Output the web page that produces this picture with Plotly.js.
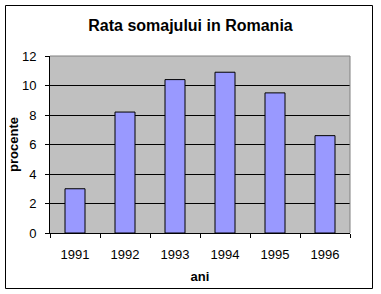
<!DOCTYPE html>
<html><head><meta charset="utf-8">
<script src="https://cdn.plot.ly/plotly-3.0.1.min.js"></script>
<style>html,body{margin:0;padding:0;background:#fff;}#c{width:381px;height:294px;}</style>
</head><body><div id="c"></div>
<script>
const years = ['1991','1992','1993','1994','1995','1996'];
const rates = [3.0, 8.2, 10.4, 10.9, 9.5, 6.6];
const yTicks = [0,2,4,6,8,10,12];
const chartTitle = 'Rata somajului in Romania';
const xTitle = 'ani';
const yTitle = 'procente';

const F = 'Liberation Sans, Arial, sans-serif';
const trace = {
  type: 'bar', x: years, y: rates,
  marker: {color: '#9999ff', line: {color: '#000', width: 1}},
  hoverinfo: 'none'
};
const layout = {
  width: 381, height: 294,
  margin: {l: 50, r: 31, t: 56, b: 61},
  paper_bgcolor: '#fff', plot_bgcolor: '#c0c0c0',
  bargap: 0.6, showlegend: false,
  font: {family: F, color: '#000', size: 13},
  title: {text: '<b>' + chartTitle + '</b>', font: {family: F, size: 16, color: '#000'},
          x: 0.5, xref: 'container', y: 1 - 25/294, yref: 'container', yanchor: 'middle'},
  xaxis: {
    type: 'category', showline: true, linecolor: '#000', linewidth: 1,
    ticks: 'outside', ticklen: 4, tickcolor: '#000', tickson: 'boundaries',
    showgrid: false, zeroline: false, tickfont: {family: F, size: 13}, ticklabelstandoff: 9,
    title: {text: '<b>' + xTitle + '</b>', font: {family: F, size: 13}, standoff: 11}
  },
  yaxis: {
    range: [0, 12], tickvals: yTicks, showline: true, linecolor: '#000', linewidth: 1,
    ticks: 'outside', ticklen: 4, tickcolor: '#000',
    showgrid: true, gridcolor: '#000', gridwidth: 1, zeroline: false,
    tickfont: {family: F, size: 13}, ticklabelstandoff: 6,
    title: {text: '<b>' + yTitle + '</b>', font: {family: F, size: 13}, standoff: 0}
  },
  shapes: [
    {type: 'line', xref: 'paper', yref: 'paper', x0: 0, x1: 1, y0: 1, y1: 1, line: {color: '#808080', width: 1}},
    {type: 'line', xref: 'paper', yref: 'paper', x0: 1, x1: 1, y0: 0, y1: 1, line: {color: '#808080', width: 1}},
    {type: 'rect', xref: 'paper', yref: 'paper', x0: (5.5-50)/300, x1: (372.5-50)/300,
     y0: (233-288.5)/177, y1: (233-5.5)/177, line: {color: '#000', width: 1}}
  ]
};
Plotly.newPlot('c', [trace], layout, {staticPlot: true});
</script></body></html>
